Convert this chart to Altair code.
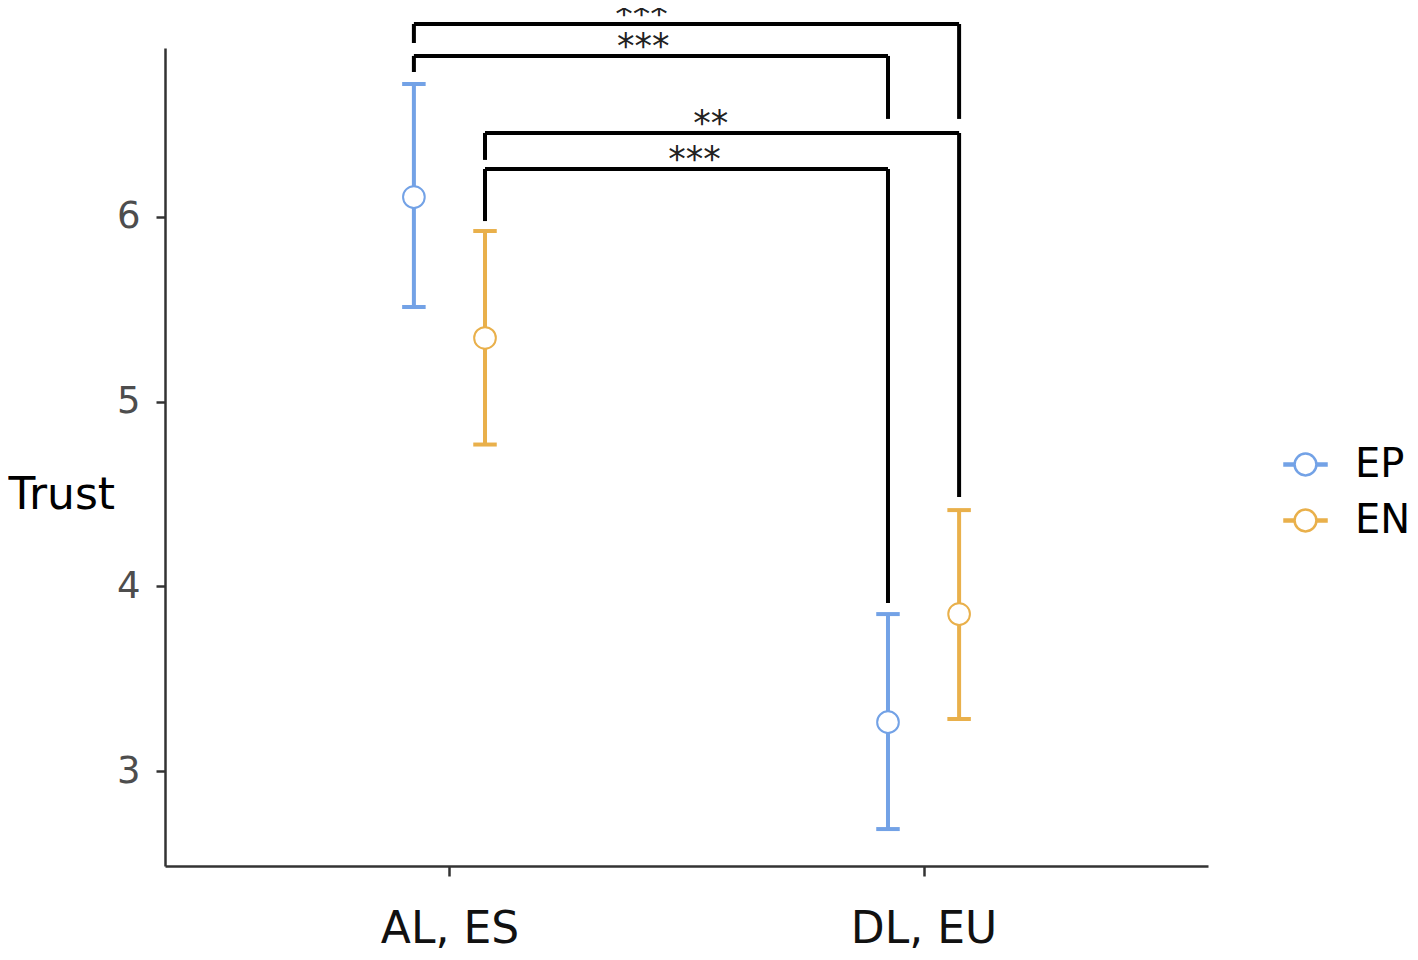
import altair as alt
import pandas as pd

# ---- data ----
groups = ["AL, ES", "AL, ES", "DL, EU", "DL, EU"]
conds = ["EP", "EN", "EP", "EN"]
means = [6.108, 5.345, 3.265, 3.850]
lowers = [5.513, 4.768, 2.686, 3.282]
uppers = [6.720, 5.924, 3.850, 4.413]

group_order = ["AL, ES", "DL, EU"]
cond_order = ["EP", "EN"]
cond_colors = ["#73A2E6", "#E9B04B"]
dodge_width = 0.15

# significance brackets
br_left_group = ["AL, ES", "AL, ES", "AL, ES", "AL, ES"]
br_left_cond = ["EP", "EP", "EN", "EN"]
br_right_group = ["DL, EU", "DL, EU", "DL, EU", "DL, EU"]
br_right_cond = ["EN", "EP", "EN", "EP"]
br_y = [7.045, 6.872, 6.455, 6.260]
br_left_end = [6.942, 6.785, 6.309, 5.978]
br_right_end = [6.531, 6.531, 4.484, 3.910]
br_labels = ["***", "***", "**", "***"]
br_label_x = [1.405, 1.409, 1.551, 1.517]

y_ticks = [3, 4, 5, 6]


def xpos(g, c):
    gi = group_order.index(g) + 1
    off = (cond_order.index(c) - 0.5) * dodge_width
    return gi + off


pts = pd.DataFrame({
    "x": [xpos(g, c) for g, c in zip(groups, conds)],
    "y": means,
    "lo": lowers,
    "hi": uppers,
    "cond": conds,
})
caps = pd.DataFrame({
    "x": list(pts["x"]) * 2,
    "y": lowers + uppers,
    "cond": conds * 2,
})

seg_rows = []
for lg, lc, rg, rc, yb, le, re_ in zip(br_left_group, br_left_cond, br_right_group,
                                      br_right_cond, br_y, br_left_end, br_right_end):
    xl = xpos(lg, lc)
    xr = xpos(rg, rc)
    seg_rows.append({"x": xl, "x2": xr, "y": yb, "y2": yb})
    seg_rows.append({"x": xl, "x2": xl, "y": le, "y2": yb})
    seg_rows.append({"x": xr, "x2": xr, "y": re_, "y2": yb})
segs = pd.DataFrame(seg_rows)
labs = pd.DataFrame({"x": br_label_x, "y": br_y, "text": br_labels})

FONT = "DejaVu Sans"

label_expr = " : ".join(
    [f"datum.value == {i+1} ? '{g}'" for i, g in enumerate(group_order)]) + " : ''"

xscale = alt.Scale(domain=[0.4, 2.6], nice=False, zero=False)
yscale = alt.Scale(domain=[2.486, 6.915], nice=False, zero=False)

X = alt.X("x:Q", scale=xscale, title=None,
          axis=alt.Axis(values=[1, 2], labelExpr=label_expr, grid=False,
                        labelFontSize=44, labelFont=FONT, labelColor="#111111",
                        labelPadding=31, tickSize=10, tickWidth=2.5, tickColor="#333333",
                        domainColor="#333333", domainWidth=2.5))
Y = alt.Y("y:Q", scale=yscale, title="Trust",
          axis=alt.Axis(values=y_ticks, format="d", grid=False, labelFontSize=37,
                        labelFont=FONT, labelColor="#4d4d4d", labelPadding=16,
                        tickSize=9, tickWidth=2.5,
                        tickColor="#333333", domainColor="#333333", domainWidth=2.5,
                        titleAngle=0, titleFont=FONT, titleFontSize=44,
                        titleFontWeight="normal", titleColor="#000000",
                        titleX=-157, titleY=447, titleAlign="left",
                        titleBaseline="middle"))

legend_path = ("M-1,-0.045 L-0.52,-0.045 L-0.52,0.045 L-1,0.045 Z "
               "M0.52,-0.045 L1,-0.045 L1,0.045 L0.52,0.045 Z "
               "M0.52,0 A0.52,0.52 0 1,1 -0.52,0 A0.52,0.52 0 1,1 0.52,0 Z")

legend = alt.Legend(title=None, orient="none", legendX=1118, legendY=394,
                    symbolType=legend_path, symbolSize=1764, symbolStrokeWidth=2.5,
                    symbolFillColor="white", symbolOpacity=1, labelFont=FONT,
                    labelFontSize=40, labelColor="#000000", labelOffset=27,
                    rowPadding=13)

color_enc = alt.Color("cond:N", scale=alt.Scale(domain=cond_order, range=cond_colors),
                      legend=legend)

err = alt.Chart(pts).mark_rule(strokeWidth=4).encode(
    x=X, y=alt.Y("lo:Q", scale=yscale, title="Trust"), y2="hi:Q", color=color_enc)
cap = alt.Chart(caps).mark_tick(orient="horizontal", filled=False, size=21,
                                thickness=1.5, strokeWidth=2.5, opacity=1).encode(
    x=X, y=Y, color=color_enc)
pt = alt.Chart(pts).mark_point(shape="circle", filled=False, fill="white",
                               fillOpacity=1, opacity=1, size=470, strokeWidth=2).encode(
    x=X, y=Y, color=color_enc)
br = alt.Chart(segs).mark_rule(strokeWidth=4, color="#000000").encode(
    x=X, x2="x2:Q", y=Y, y2="y2:Q")
tx = alt.Chart(labs).mark_text(font=FONT, fontSize=35, baseline="alphabetic", dy=2,
                               color="#222222").encode(x=X, y=Y, text="text:N")

chart = alt.layer(br, err, cap, pt, tx).properties(
    width=1043, height=818,
    background="white",
    autosize=alt.AutoSizeParams(type="none"),
    padding={"left": 157, "top": 40, "right": 202, "bottom": 86},
).configure_view(stroke=None)

chart.save("out.html", embed_options={"renderer": "svg", "actions": False})
